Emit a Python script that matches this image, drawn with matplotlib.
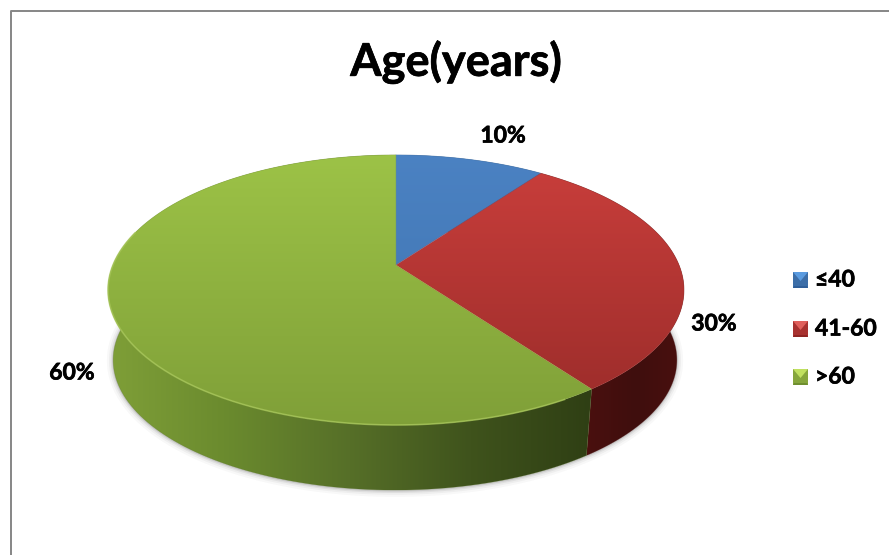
import numpy as np
import matplotlib
matplotlib.use('Agg')
import matplotlib.pyplot as plt
import matplotlib.patheffects as pe
from matplotlib.colors import LinearSegmentedColormap, to_rgb
from matplotlib.patches import Polygon

title = 'Age(years)'
categories = ['≤40', '41-60', '>60']
values = [10, 30, 60]
value_labels = ['10%', '30%', '60%']

plt.rcParams['font.family'] = ['Lato', 'DejaVu Sans']

top_colors = [['#4b82c3', '#3e72ad'], ['#cb3f3c', '#982b29'], ['#9dc347', '#7f9f38']]
side_colors = [['#2b5480', '#2b5480'],
               ['#5c1412', '#4a100f', '#3f0e0d', '#4a100f'],
               ['#7f9f38', '#6a8a2e', '#566f28', '#3f531c', '#2f3f14']]
marker_colors = [['#5a9be0', '#2f5f9a', '#3c6ea8'], ['#e0605c', '#8f2523', '#a83230'], ['#c0e060', '#6f8f30', '#86a63c']]
label_pos = [(503, 136), (714, 324), (72, 373)]
legend_y = [280, 329, 377]

fig = plt.figure(figsize=(8.89, 5.55), dpi=100)
ax = fig.add_axes([0, 0, 1, 1])
ax.axis('off')


def rim(theta, cx, cy, a, b, k=0.185):
    # circle seen in perspective, theta clockwise from the top
    d = 1 + k * np.cos(theta)
    return cx + a * np.sin(theta) / d, cy - b * np.cos(theta) / d


def top_rim(theta):
    return rim(theta, 396, 265, 283, 130.4)


def bottom_rim(theta):
    return rim(theta, 395, 336, 277, 125.6)


def gradient_fill(xy, colors, horizontal, extent, z):
    cmap = LinearSegmentedColormap.from_list('g', colors)
    ramp = np.linspace(0, 1, 256)
    ramp = ramp.reshape(1, -1) if horizontal else ramp.reshape(-1, 1)
    mid = np.mean([to_rgb(c) for c in colors], axis=0)
    poly = Polygon(xy, closed=True, facecolor='none', edgecolor=(*mid, 0.35), lw=0.5, zorder=z + 0.1)
    ax.add_patch(poly)
    im = ax.imshow(ramp, cmap=cmap, extent=extent, aspect='auto', origin='upper', zorder=z, interpolation='bilinear')
    im.set_clip_path(poly)


edges = np.cumsum([0] + values) / sum(values) * 2 * np.pi

# soft shadow under the side wall
t = np.linspace(np.radians(80), np.radians(285), 200)
sx, sy = bottom_rim(t)
for lw, al in [(9, 0.04), (6, 0.06), (3.5, 0.09), (1.5, 0.14)]:
    ax.plot(sx, sy + 0.5, color='#505050', lw=lw, alpha=al, zorder=1, solid_capstyle='round')

# side walls
for i in range(len(values)):
    t = np.linspace(edges[i], edges[i + 1], 150)
    x1, y1 = top_rim(t)
    x2, y2 = bottom_rim(t)
    xy = np.column_stack([np.r_[x1, x2[::-1]], np.r_[y1, y2[::-1]]])
    gradient_fill(xy, side_colors[i], True, (xy[:, 0].min(), xy[:, 0].max(), xy[:, 1].max(), xy[:, 1].min()), 2 + i * 0.2)

# top surface
for i in range(len(values)):
    t = np.linspace(edges[i], edges[i + 1], 200)
    x1, y1 = top_rim(t)
    xy = np.column_stack([np.r_[396, x1], np.r_[265, y1]])
    gradient_fill(xy, top_colors[i], False, (100, 690, 430, 150), 4)

# lighter bevel on the front edge
t = np.linspace(np.radians(150), np.radians(285), 200)
bx, by = top_rim(t)
ax.plot(bx, by, color='#a9c85a', lw=1.2, alpha=0.7, zorder=5)

ax.set_xlim(0, 889)
ax.set_ylim(555, 0)

# chart frame
ax.plot([10.5, 10.5, 889], [555, 11, 11], color='#868686', lw=1.4, zorder=6)

stroke = [pe.withStroke(linewidth=0.5, foreground='black')]
ax.text(456, 62, title, fontsize=32.5, fontweight='bold', ha='center', va='center', color='black', path_effects=stroke)
for lab, (x, y) in zip(value_labels, label_pos):
    ax.text(x, y, lab, fontsize=16.5, fontweight='bold', ha='center', va='center', color='black', path_effects=stroke)

# legend
for cat, y, c in zip(categories, legend_y, marker_colors):
    l, r, u, d = 793, 808, y - 8, y + 8
    ax.fill([l, r, r, l], [u, u, d, d], color=c[2], zorder=6, lw=0)
    ax.fill([l, r, (l + r) / 2], [u, u, y + 1], color=c[0], zorder=7, lw=0)
    ax.fill([l, r, r - 1, l + 1], [d, d, d - 2, d - 2], color=c[1], zorder=7, lw=0)
    ax.text(815, y, cat, fontsize=16.5, fontweight='bold', ha='left', va='center', color='black', path_effects=stroke)

fig.savefig('out.png', dpi=100, facecolor='white')
